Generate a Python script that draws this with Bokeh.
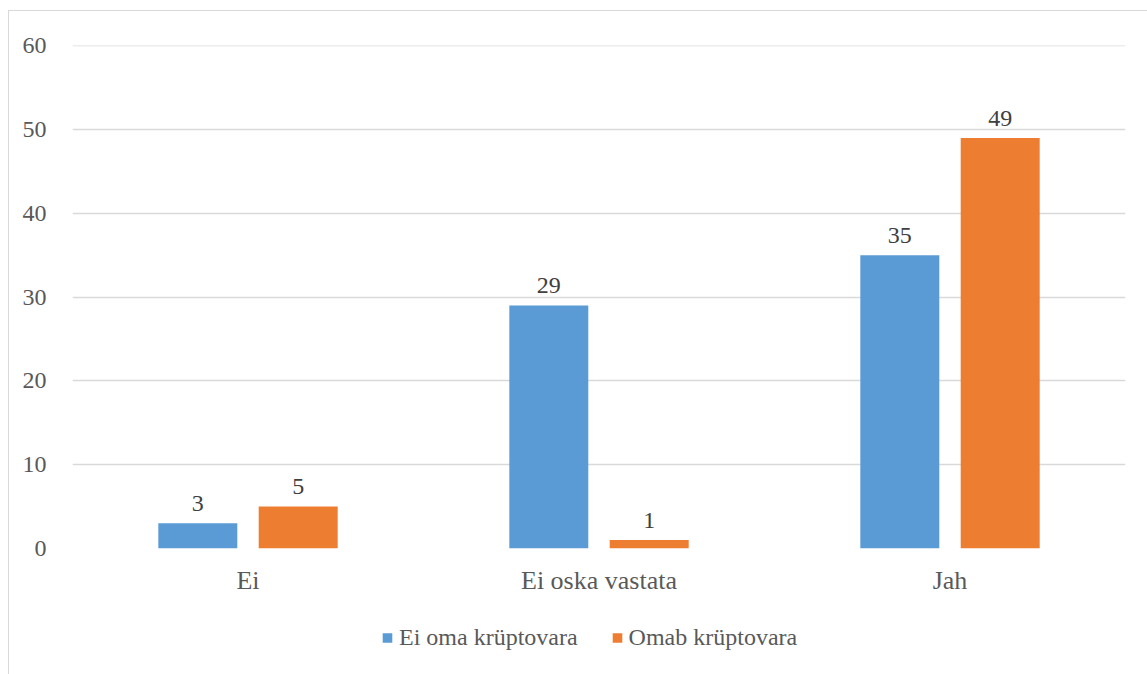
from bokeh.plotting import figure
from bokeh.layouts import column
from bokeh.models import ColumnDataSource, FactorRange, Legend, LegendItem, Range1d, FixedTicker
from bokeh.transform import dodge
from bokeh.core.properties import value
from bokeh.embed import file_html
from bokeh.resources import INLINE

# Answer categories and counts per group
categories = ["Ei", "Ei oska vastata", "Jah"]
no_crypto = [3, 29, 35]
has_crypto = [5, 1, 49]
series_names = ["Ei oma krüptovara", "Omab krüptovara"]
y_ticks = [0, 10, 20, 30, 40, 50, 60]

BLUE = "#5b9bd5"
ORANGE = "#ed7d31"
GRID = "#d9d9d9"
TEXT = "#595959"
FONT = "Liberation Serif"

source = ColumnDataSource(dict(
    cat=categories,
    no_crypto=no_crypto,
    has_crypto=has_crypto,
    no_lbl=[str(v) for v in no_crypto],
    has_lbl=[str(v) for v in has_crypto],
))

p = figure(
    width=1139, height=589,
    x_range=FactorRange(*categories, range_padding=0),
    y_range=Range1d(0, 60.05),
    output_backend="svg", toolbar_location=None,
    min_border_left=63, min_border_right=23,
    min_border_top=34, min_border_bottom=52,
)
p.outline_line_color = None
p.background_fill_color = "white"
p.border_fill_color = "white"

bw = 0.225
off = 0.143
p.vbar(x=dodge("cat", -off, range=p.x_range), top="no_crypto", width=bw,
       source=source, fill_color=BLUE, line_color=None)
p.vbar(x=dodge("cat", off, range=p.x_range), top="has_crypto", width=bw,
       source=source, fill_color=ORANGE, line_color=None)

# value labels above the bars
for col, lbl, o in (("no_crypto", "no_lbl", -off), ("has_crypto", "has_lbl", off)):
    p.text(x=dodge("cat", o, range=p.x_range), y=col, text=lbl, source=source,
           text_align="center", text_baseline="alphabetic", y_offset=-20,
           text_font=value(FONT), text_font_size="24px", text_color="#404040")

p.xgrid.grid_line_color = None
p.ygrid.grid_line_color = GRID
p.ygrid.grid_line_width = 1.3
p.yaxis.ticker = FixedTicker(ticks=y_ticks)

for ax in (p.xaxis[0], p.yaxis[0]):
    ax.axis_line_color = None
    ax.major_tick_line_color = None
    ax.minor_tick_line_color = None
    ax.major_label_text_font = FONT
    ax.major_label_text_color = TEXT

p.yaxis.major_label_text_font_size = "24px"
p.yaxis.major_label_standoff = 20
p.xaxis.major_label_text_font_size = "26px"
p.xaxis.major_label_standoff = 11

# legend strip underneath the chart; its key renderers sit below the view
leg = figure(width=1139, height=74, x_range=Range1d(0, 1), y_range=Range1d(0, 1),
             output_backend="svg", toolbar_location=None,
             min_border_left=63, min_border_right=23, min_border_top=0, min_border_bottom=0)
leg.axis.visible = False
leg.grid.visible = False
leg.outline_line_color = None
leg.background_fill_color = "white"
leg.border_fill_color = "white"
k1 = leg.vbar(x=[0.5], top=[-5], bottom=[-6], width=0.1, fill_color=BLUE, line_color=None)
k2 = leg.vbar(x=[0.5], top=[-5], bottom=[-6], width=0.1, fill_color=ORANGE, line_color=None)

legend = Legend(items=[LegendItem(label=series_names[0], renderers=[k1]),
                       LegendItem(label=series_names[1], renderers=[k2])],
                orientation="horizontal", location="center_left")
legend.border_line_color = None
legend.background_fill_alpha = 0
legend.glyph_width = 12
legend.glyph_height = 12
legend.label_standoff = 6
legend.spacing = 33
legend.padding = 0
legend.margin = 309
legend.label_text_font = FONT
legend.label_text_font_size = "24px"
legend.label_text_color = TEXT
leg.add_layout(legend, "center")

page = column(p, leg, spacing=0,
              styles={"margin-left": "8px", "margin-top": "10px",
                      "border-left": f"1px solid {GRID}",
                      "border-top": f"1px solid {GRID}"})

open("out.html", "w").write(file_html(page, INLINE))
